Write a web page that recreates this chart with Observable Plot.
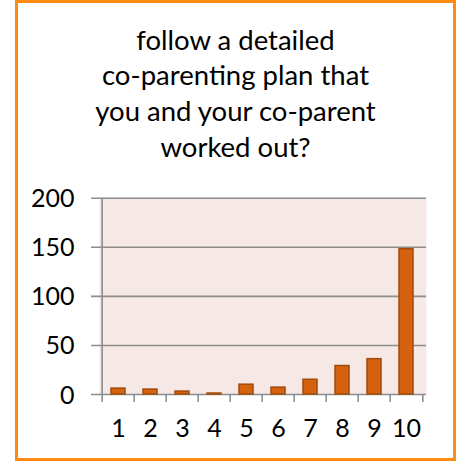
<!DOCTYPE html>
<html>
<head>
<meta charset="utf-8">
<script src="https://cdn.jsdelivr.net/npm/d3@7"></script>
<script src="https://cdn.jsdelivr.net/npm/@observablehq/plot@0.6"></script>
<style>
  html, body { margin: 0; padding: 0; background: #fff; }
  body { width: 456px; height: 461px; position: relative; overflow: hidden; font-family: Lato, "Open Sans", sans-serif; }
  #box { position: absolute; left: 15px; top: 0; width: 441px; height: 461px; box-sizing: border-box; border: 3.5px solid #FF8A12; }
  #title { position: absolute; left: 15px; width: 441px; top: 21.5px; text-align: center; font-size: 27.5px; line-height: 35.8px; color: #000; }
  #chart { position: absolute; left: 0; top: 180px; }
  #chart svg text { font-size: 25px; font-family: Lato, "Open Sans", sans-serif; }
</style>
</head>
<body>
<div id="box"></div>
<div id="title">follow a detailed<br>co-parenting plan that<br>you and your co-parent<br>worked out?</div>
<div id="chart"></div>
<script>
const categories = ["1", "2", "3", "4", "5", "6", "7", "8", "9", "10"];
const values = [6, 5, 3, 1, 10, 7, 15, 29, 36, 148];
const yTicks = [0, 50, 100, 150, 200];

const data = categories.map((c, i) => ({cat: c, value: values[i]}));

const W = 456, H = 281;
const mL = 99, mR = 30, mT = 17.7, mB = 67;
const step = (W - mL - mR) / categories.length;
const grid = "#8C8C8C";

const chart = Plot.plot({
  width: W,
  height: H,
  marginLeft: mL,
  marginRight: mR,
  marginTop: mT,
  marginBottom: mB,
  style: {fontFamily: "Lato, 'Open Sans', sans-serif", fontSize: "25px", color: "#000", background: "transparent", overflow: "visible"},
  x: {type: "band", domain: categories, paddingInner: 0.56, paddingOuter: 0.28, label: null},
  y: {domain: [0, 200], label: null},
  marks: [
    Plot.frame({fill: "#F6E8E5", stroke: "none"}),
    Plot.ruleY(yTicks, {stroke: grid, strokeWidth: 1.6, insetLeft: -8}),
    Plot.barY(data, {x: "cat", y: "value", fill: "#D5620E", stroke: "#A24A0A", strokeWidth: 1.5}),
    Plot.ruleX([categories[0]], {x: d => d, y1: 200, y2: 0, dx: -step / 2, insetBottom: -8, stroke: grid, strokeWidth: 1.6}),
    Plot.ruleX(categories.slice(1), {x: d => d, y1: 0, y2: 0, dx: -step / 2, insetBottom: -8, stroke: grid, strokeWidth: 1.6}),
    Plot.ruleX([categories[categories.length - 1]], {x: d => d, y1: 0, y2: 0, dx: step / 2, insetBottom: -8, stroke: grid, strokeWidth: 1.6}),
    Plot.axisY({ticks: yTicks, tickSize: 0, tickPadding: 25, dy: 1, fontSize: 25, fill: "#000"}),
    Plot.axisX({tickSize: 0, tickPadding: 25, fontSize: 25, fill: "#000"})
  ]
});
document.getElementById("chart").appendChild(chart);
</script>
</body>
</html>
